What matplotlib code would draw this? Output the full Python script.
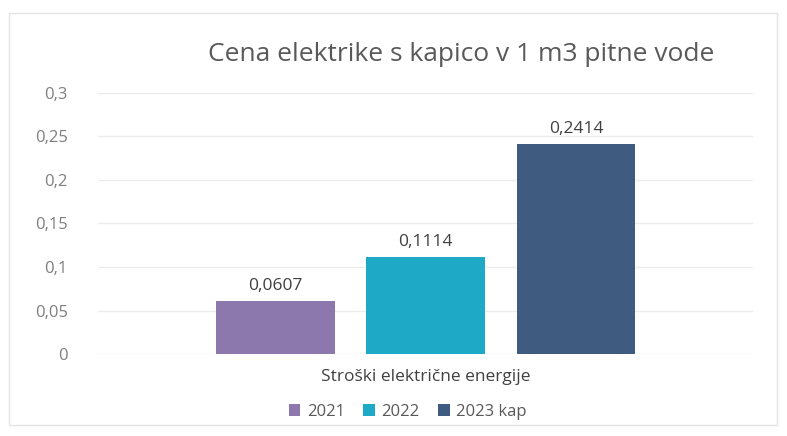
import matplotlib.pyplot as plt
from matplotlib.patches import Rectangle

# data
category = 'Stroški električne energije'
series = ['2021', '2022', '2023 kap']
values = [0.0607, 0.1114, 0.2414]
value_labels = ['0,0607', '0,1114', '0,2414']
yticks = [0, 0.05, 0.1, 0.15, 0.2, 0.25, 0.3]
ytick_labels = ['0', '0,05', '0,1', '0,15', '0,2', '0,25', '0,3']
colors = ['#8C78AC', '#1EAAC7', '#3F5B7F']

plt.rcParams['font.family'] = ['Open Sans', 'DejaVu Sans']

fig = plt.figure(figsize=(7.87, 4.36), dpi=100)
ax = fig.add_axes([0.125, 0.188, 0.832, 0.599])

# outer frame of the chart
fig.patches.append(Rectangle((0.012, 0.025), 0.975, 0.945, transform=fig.transFigure,
                             fill=False, edgecolor='#e4e4e4', linewidth=1))

pos = [-1, 0, 1]
bars = ax.bar(pos, values, width=0.79, color=colors, label=series, zorder=3)
for x, v, lab in zip(pos, values, value_labels):
    ax.text(x, v + 0.008, lab, ha='center', va='bottom', fontsize=12.5, color='#404040')

ax.set_xlim(-2.18, 2.18)
ax.set_ylim(0, 0.3)
ax.set_yticks(yticks)
ax.set_yticklabels(ytick_labels, fontsize=12, color='#7f7f7f')
ax.set_xticks([0])
ax.set_xticklabels([category], fontsize=12.5, color='#404040')
ax.tick_params(length=0, pad=11)
ax.tick_params(axis='y', pad=22)
ax.grid(axis='y', color='#ececec', linewidth=1, zorder=0)
for s in ax.spines.values():
    s.set_visible(False)

fig.text(0.586, 0.876, 'Cena elektrike s kapico v 1 m3 pitne vode', ha='center',
         va='center', fontsize=19, color='#595959')

fig.legend(handles=bars, labels=series, loc='center', bbox_to_anchor=(0.518, 0.055),
           ncol=3, frameon=False, fontsize=12, handlelength=0.7, handleheight=0.7,
           columnspacing=1.1, handletextpad=0.4, labelcolor='#595959')

fig.savefig('out.png', dpi=100)
